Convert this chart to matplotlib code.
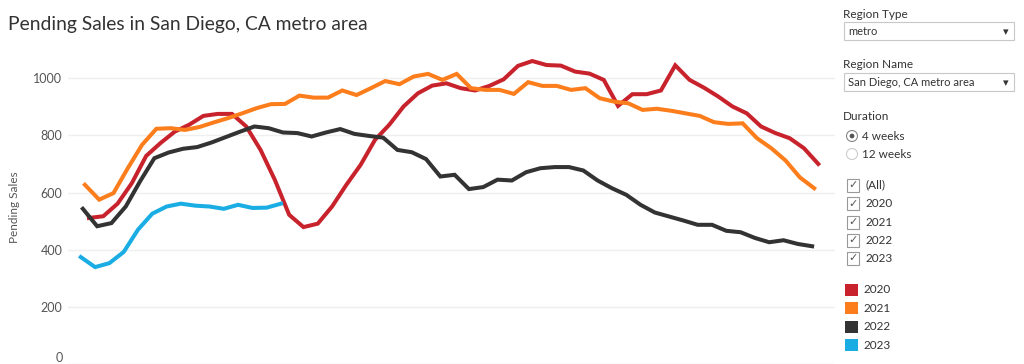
import matplotlib
matplotlib.use("Agg")
import matplotlib.pyplot as plt
from matplotlib.patches import Rectangle, Circle
import numpy as np

plt.rcParams['font.family'] = ['Lato', 'DejaVu Sans']

# weekly pending sales (4-week), week index 0..51
years = ["2020", "2021", "2022", "2023"]
first_day = [5, 3, 2, 1]  # day of year of first week-ending date
colors = ["#c8232c", "#fc7d1b", "#333333", "#19ade4"]

sales_2020 = [511, 517, 561, 633, 728, 773, 813, 837, 868, 875, 875, 831, 749, 644,
              522, 479, 491, 551, 627, 697, 784, 837, 901, 947, 974, 982, 965, 957,
              973, 996, 1043, 1060, 1046, 1044, 1023, 1016, 994, 903, 944, 944, 957,
              1045, 994, 967, 936, 901, 877, 831, 808, 790, 755, 700]
sales_2021 = [627, 575, 598, 685, 767, 823, 825, 819, 829, 845, 860, 877, 895, 909,
              910, 939, 932, 932, 957, 941, 965, 990, 979, 1006, 1015, 994, 1015, 965,
              959, 959, 945, 986, 973, 973, 959, 965, 930, 918, 912, 889, 893, 886,
              877, 868, 846, 840, 842, 790, 755, 712, 653, 615]
sales_2022 = [543, 482, 493, 551, 639, 720, 740, 753, 759, 775, 794, 813, 831, 825,
              810, 808, 796, 810, 822, 805, 798, 792, 749, 741, 717, 656, 662, 612,
              619, 645, 642, 671, 685, 689, 689, 677, 642, 615, 592, 557, 530, 516,
              502, 487, 487, 466, 461, 441, 426, 433, 420, 412]
sales_2023 = [374, 339, 353, 392, 470, 526, 551, 561, 554, 551, 543, 557, 546, 547, 561]
series = [sales_2020, sales_2021, sales_2022, sales_2023]

yticks = [0, 200, 400, 600, 800, 1000]

W, H = 1024, 364
fig = plt.figure(figsize=(W / 100, H / 100), dpi=100)


def fx(px):
    return px / W


def fy(py):
    return 1 - py / H


ax = fig.add_axes([fx(68), 0, fx(835 - 68), (H - 49.6) / H])
for yr, d0, c, vals in zip(years, first_day, colors, series):
    days = d0 + 7 * np.arange(len(vals))
    ax.plot(days, vals, color=c, lw=2.9, solid_joinstyle='miter', zorder=3)

ax.set_xlim(-5.27, 370.2)
ax.set_ylim(0, 1100)
ax.set_yticks(yticks)
ax.set_yticklabels([str(t) for t in yticks])
ax.set_xticks([])
ax.tick_params(axis='y', length=0, pad=4, labelsize=9, labelcolor='#555555')
ax.get_yticklabels()[0].set_va('bottom')
ax.grid(axis='y', color='#efefef', lw=1)
for s in ax.spines.values():
    s.set_visible(False)
ax.set_ylabel("Pending Sales", fontsize=8.5, color='#555555', labelpad=10)

fig.text(fx(8), fy(30), "Pending Sales in San Diego, CA metro area",
         fontsize=13.9, color='#333333', va='baseline', ha='left')

# right-hand filter panel
txt = dict(fontsize=8.5, color='#333333', va='center', ha='left')
fig.text(fx(843), fy(14), "Region Type", **txt)
fig.patches.append(Rectangle((fx(844), fy(40)), fx(170), 17.5 / H, transform=fig.transFigure,
                             fc='white', ec='#c8c8c8', lw=0.8))
fig.text(fx(848), fy(31.5), "metro", fontsize=8, color='#333333', va='center')
fig.text(fx(1003), fy(32), "\u25be", fontsize=8, color='#333333', va='center',
         family='DejaVu Sans')
fig.text(fx(843), fy(65), "Region Name", **txt)
fig.patches.append(Rectangle((fx(844), fy(91)), fx(170), 17.5 / H, transform=fig.transFigure,
                             fc='white', ec='#c8c8c8', lw=0.8))
fig.text(fx(848), fy(82.5), "San Diego, CA metro area", fontsize=8, color='#333333', va='center')
fig.text(fx(1003), fy(83), "\u25be", fontsize=8, color='#333333', va='center',
         family='DejaVu Sans')

fig.text(fx(843), fy(117), "Duration", **txt)
for py, label, on in [(136, "4 weeks", True), (154, "12 weeks", False)]:
    ctr = (852 / 100, (H - py) / 100)
    fig.patches.append(Circle(ctr, 5.5 / 100, transform=fig.dpi_scale_trans,
                              fc='white', ec='#888888' if on else '#cccccc', lw=0.8))
    if on:
        fig.patches.append(Circle(ctr, 2.4 / 100, transform=fig.dpi_scale_trans,
                                  fc='#555555', ec='none'))
    fig.text(fx(862), fy(py), label, **txt)

for py, label in [(185, "(All)"), (203.5, "2020"), (222, "2021"), (240, "2022"), (258.5, "2023")]:
    fig.patches.append(Rectangle((fx(846.5), fy(py + 6.5)), fx(12.5), 13 / H,
                                 transform=fig.transFigure, fc='white', ec='#999999', lw=0.8))
    fig.text(fx(852.8), fy(py), "\u2713", fontsize=8, color='#555555', va='center', ha='center',
             family='DejaVu Sans')
    fig.text(fx(865), fy(py), label, **txt)

for i, (yr, c) in enumerate(zip(years, colors)):
    py = 289.5 + i * 18.6
    fig.patches.append(Rectangle((fx(845), fy(py + 6)), fx(12.5), 12 / H,
                                 transform=fig.transFigure, fc=c, ec='none'))
    fig.text(fx(863), fy(py), yr, **txt)

fig.savefig("out.png", dpi=100)
